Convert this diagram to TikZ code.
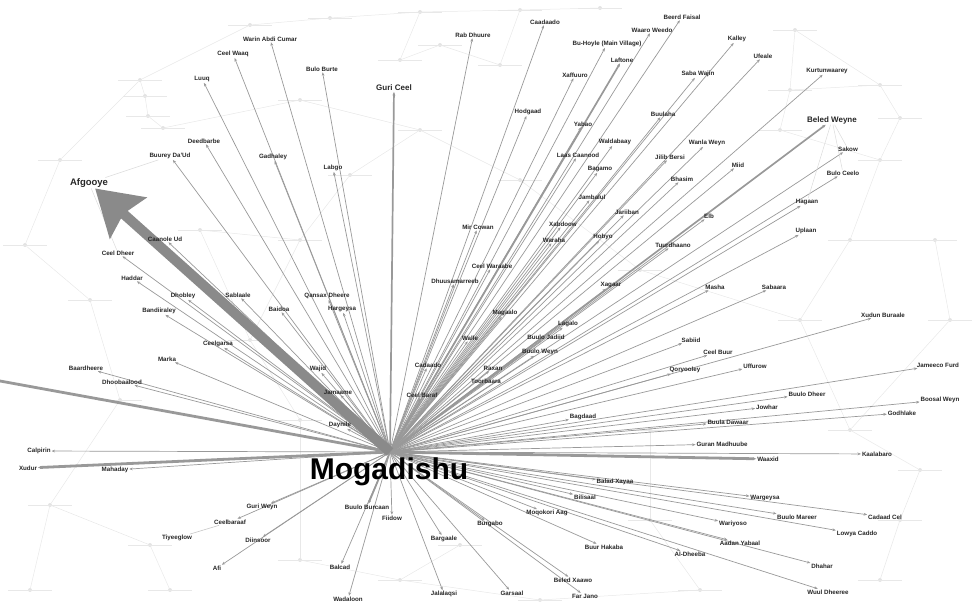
\documentclass[tikz,border=0pt]{standalone}
\usepackage{fontspec}
\setmainfont{Liberation Sans}
\usetikzlibrary{arrows.meta}
\pgfdeclarelayer{haze}
\pgfdeclarelayer{links}
\pgfsetlayers{haze,links,main}
\begin{document}
\begin{tikzpicture}[x=1pt,y=-1pt,
  place/.style={font=\fontsize{6.2}{7}\selectfont\bfseries, text=black!85, inner sep=0.8pt},
  bigplace/.style={font=\fontsize{8}{9}\selectfont\bfseries, text=black!85, inner sep=0.8pt},
  hubtext/.style={font=\fontsize{30}{32}\selectfont\bfseries, text=black, inner sep=0pt},
  link/.style={draw=black!40, line width=0.7pt, -{Stealth[length=3.5pt,width=2.8pt]}},
  heavy/.style={line width=1.7pt},
  heavier/.style={line width=2.8pt},
  mist/.style={draw=black!9, line width=0.5pt},
  mistdot/.style={circle, fill=black!11, inner sep=0pt, minimum size=4pt},
]
\useasboundingbox (0,0) rectangle (972,608);

% ---- faint background network ----
\begin{pgfonlayer}{haze}
\foreach \i/\x/\y in {1/330/18,2/420/12,3/520/10,4/600/8,5/250/25,6/440/45,7/795/30,
  8/140/80,9/400/60,10/500/65,11/790/90,12/880/85,13/145/96,14/148/116,15/163/128,
  16/300/100,17/420/130,18/780/130,19/900/118,20/60/160,21/350/175,22/520/180,
  23/880/160,24/25/245,25/200/230,26/300/240,27/640/270,28/850/240,29/935/240,
  30/90/300,31/250/340,32/800/320,33/950/320,34/120/400,35/300/420,36/650/430,
  37/850/430,38/920/470,39/50/505,40/150/545,41/300/560,42/460/545,43/650/520,
  44/900/520,45/30/590,46/170/590,47/400/580,48/700/590,49/880/580,50/540/600}
  {\node[mistdot] (f\i) at (\x,\y) {};
   \draw[mist] (\x-22,\y) -- (\x+22,\y);}
\foreach \a/\b in {1/2,2/3,3/4,5/1,6/9,9/2,6/10,10/3,7/11,11/12,12/19,8/13,13/14,
  14/15,15/16,16/17,17/21,18/11,18/23,19/23,20/24,20/8,21/26,22/17,22/27,23/28,
  28/29,24/30,25/26,25/31,26/31,27/32,28/32,29/33,30/34,31/35,32/37,33/37,34/39,
  35/41,36/43,37/38,38/44,39/45,40/46,40/39,41/47,42/47,43/48,44/49,47/50,48/50,
  5/8,7/12}
  {\draw[mist] (f\a) -- (f\b);}
\end{pgfonlayer}

% ---- places ----
\coordinate (hub) at (390,452);
\coordinate (edgeW) at (0,381);
\node[hubtext] (mog) at (389,472) {Mogadishu};

\foreach \i/\x/\y/\t in {
  1/473/35/Rab Dhuure, 2/545/22/Caadaado, 3/682/17/Beerd Faisal, 4/652/30/Waaro Weedo,
  5/607/44/Bu-Hoyle (Main Village), 6/622/60/Laftone, 7/737/39/Kalley, 8/763/56/Ufeale,
  9/575/75/Xaffuuro, 10/698/74/Saba Wajin, 11/827/71/Kurtunwaarey,
  13/848/149/Sakow, 14/843/173/Bulo Ceelo, 15/807/202/Hagaan, 16/806/231/Uplaan,
  17/528/112/Hodgaad, 18/583/124/Yabao, 19/663/114/Buulaha, 20/615/142/Waldabaay,
  21/707/143/Wanla Weyn, 22/578/155/Laas Caanood, 23/670/157/Jilib Bersi, 24/738/165/Miid,
  25/600/169/Bagamo, 26/682/179/Bhasim, 27/592/197/Jambalul, 28/627/212/Jariiban,
  29/709/216/Elb, 30/478/227/Mir Cowan, 31/563/224/Xabdoow, 32/554/240/Waraha,
  33/603/237/Hobyo, 34/673/245/Tuurdhaano, 35/492/266/Ceel Waraabe, 36/455/281/Dhuusamarreeb,
  37/611/285/Xagaar, 38/715/287/Masha, 39/774/287/Sabaara, 40/505/313/Magaalo,
  41/568/324/Lagalo, 42/883/315/Xudun Buraale, 43/546/337/Buulo Jadiid, 44/691/340/Sabiid,
  45/470/338/Walle, 46/540/352/Buulo Weyn, 47/718/352/Ceel Buur, 48/428/365/Cadaado,
  49/755/366/Uffurow, 50/493/368/Raxan, 51/685/370/Qoryooley, 52/486/381/Toorbaara,
  53/807/394/Buulo Dheer, 54/938/365/Jameeco Furd, 55/422/395/Ceel Baraf, 56/767/407/Jowhar,
  57/940/400/Boosal Weyn, 58/902/413/Godhlake, 59/583/417/Bagdaad, 60/728/422/Buula Dawaar,
  61/722/444/Guran Madhuube, 62/768/459/Waaxid, 63/877/454/Kaalabaro, 64/615/482/Balad Xayaa,
  65/585/497/Bilisaal, 66/765/498/Wargeysa, 67/547/513/Moqokori Aag, 68/885/517/Cadaad Cel,
  69/733/524/Wariyoso, 70/797/517/Buulo Mareer, 71/857/534/Lowya Caddo, 72/604/547/Buur Hakaba,
  73/740/543/Aadan Yabaal, 74/690/554/Al-Dheeba, 75/822/566/Dhahar, 76/573/580/Beled Xaawo,
  77/585/596/Far Jano, 78/828/592/Wuul Dheeree, 79/512/593/Garsaal, 80/444/539/Bargaale,
  81/490/524/Burgabo, 82/444/594/Jalalaqsi, 83/348/599/Wadaloon, 84/340/567/Balcad,
  85/392/518/Fiidow, 86/367/507/Buulo Burcaan, 87/262/507/Guri Weyn, 88/230/522/Ceelbaraaf,
  89/177/538/Tiyeeglow, 90/258/540/Diinsoor, 91/217/568/Afi, 92/39/451/Calpirin,
  93/28/468/Xudur, 94/115/470/Mahaday, 95/340/425/Daynile, 96/86/368/Baardheere,
  97/122/382/Dhoobaalood, 98/167/359/Marka, 99/218/344/Ceelgarsa, 100/318/369/Wajid,
  101/338/392/Jamaame, 102/159/311/Bandiiraley, 103/183/296/Dhobley, 104/238/295/Sablaale,
  105/327/296/Qansax Dheere, 106/279/309/Baidoa, 107/342/309/Hargeysa, 108/132/278/Haddar,
  109/118/253/Ceel Dheer, 110/165/239/Caanole Ud, 112/333/168/Labgo, 113/273/157/Gadhaley,
  114/170/156/Buurey Da'Ud, 115/204/141/Deedbarbe, 116/202/79/Luuq, 118/322/69/Bulo Burte,
  119/233/54/Ceel Waaq, 120/270/39/Warin Abdi Cumar}
  {\node[place] (p\i) at (\x,\y) {\t};}

\node[bigplace] (p12) at (832,120) {Beled Weyne};
\node[bigplace] (p117) at (394,88) {Guri Ceel};
\node[font=\fontsize{9.5}{10}\selectfont\bfseries, text=black!85, inner sep=0.8pt] (p111) at (89,183) {Afgooye};

% ---- connectors ----
\begin{pgfonlayer}{links}
\foreach \i in {1,2,3,4,5,7,8,9,10,11,13,14,15,16,17,18,19,20,21,22,23,24,25,26,27,28,
  29,30,31,32,33,34,35,36,37,38,39,40,41,42,43,44,45,46,47,48,49,50,51,52,53,54,55,
  56,57,58,59,60,61,63,64,65,66,67,68,69,70,71,72,73,74,75,76,77,78,79,80,81,82,83,
  84,85,87,88,90,91,92,94,95,96,97,98,99,100,101,102,103,104,105,106,107,108,109,
  110,112,113,114,115,116,118,119,120}
  {\draw[link] (hub) -- (p\i);}
\foreach \i in {6,12,86,117}
  {\draw[link,heavy] (hub) -- (p\i);}
\foreach \i in {62,93}
  {\draw[link,heavier] (hub) -- (p\i);}
\draw[draw=black!40, heavier] (hub) -- (edgeW);
\draw[draw=black!22, line width=0.6pt] (p88) -- (p89);
\draw[draw=black!14, line width=0.5pt] (p111) -- (p114);
\draw[draw=black!14, line width=0.5pt] (p111) -- (p109);
\draw[draw=black!14, line width=0.5pt] (p12) -- (p13);
\draw[draw=black!14, line width=0.5pt] (p12) -- (p14);
\draw[draw=black!14, line width=0.5pt] (p12) -- (p15);
\draw[draw=black!46, line width=10pt,
  -{Stealth[length=44pt,width=54pt,inset=6pt]}] (hub) -- (p111);
\end{pgfonlayer}
\end{tikzpicture}
\end{document}
